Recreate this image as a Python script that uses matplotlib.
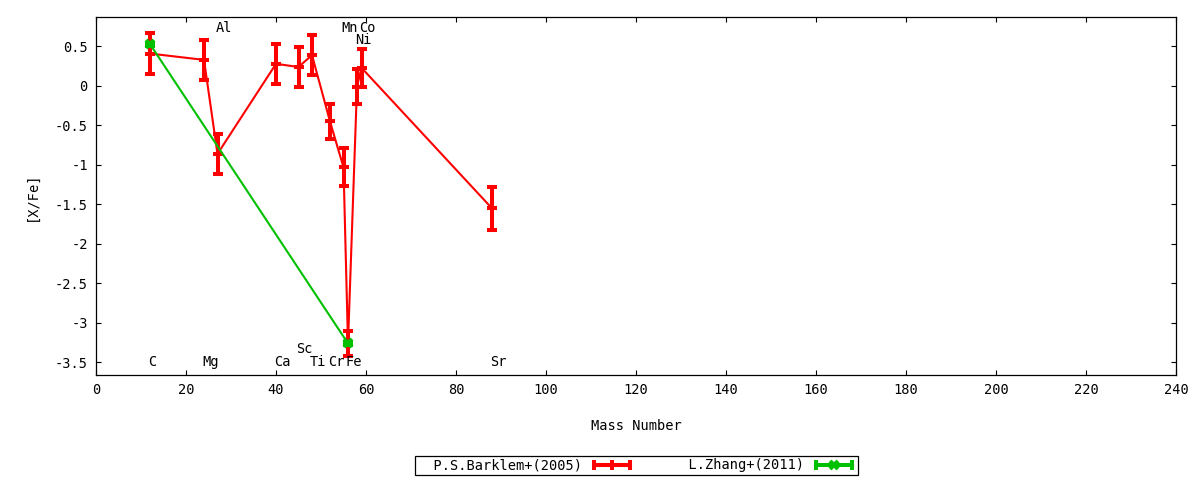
import matplotlib
matplotlib.use('Agg')
import matplotlib.pyplot as plt
from matplotlib.lines import Line2D
from matplotlib.legend_handler import HandlerLine2D, HandlerTuple
from matplotlib.ticker import FuncFormatter

# ---- data ----
elements = ['C', 'Mg', 'Al', 'Ca', 'Sc', 'Ti', 'Cr', 'Mn', 'Fe', 'Ni', 'Co', 'Sr']
mass = [12, 24, 27, 40, 45, 48, 52, 55, 56, 58, 59, 88]
barklem = [0.41, 0.33, -0.86, 0.28, 0.24, 0.39, -0.45, -1.03, -3.26, -0.01, 0.23, -1.55]
barklem_err = [0.26, 0.25, 0.25, 0.25, 0.25, 0.25, 0.22, 0.24, 0.16, 0.22, 0.24, 0.27]
label_y = [-3.5, -3.5, 0.73, -3.5, -3.33, -3.5, -3.5, 0.73, -3.5, 0.58, 0.73, -3.5]

zhang_mass = [12, 56]
zhang = [0.53, -3.26]
zhang_err = [0.02, 0.02]

series_names = ['P.S.Barklem+(2005)', 'L.Zhang+(2011)']
xticks = list(range(0, 241, 20))
yticks = [0.5, 0, -0.5, -1, -1.5, -2, -2.5, -3, -3.5]

RED = '#ff0000'
GREEN = '#00c000'

plt.rcParams['font.family'] = ['DejaVu Sans Mono', 'DejaVu Sans']
plt.rcParams['font.size'] = 9.8
plt.rcParams['axes.unicode_minus'] = False

fig = plt.figure(figsize=(12, 4.8), dpi=100)
ax = fig.add_axes([96 / 1200, 1 - 375 / 480, 1080 / 1200, 358 / 480])

# Barklem series
ax.plot(mass, barklem, color=RED, lw=1.5, zorder=2)
ax.errorbar(mass, barklem, yerr=barklem_err, fmt='none', ecolor=RED,
            elinewidth=2.9, capsize=3.3, capthick=2.9, zorder=3)
ax.plot(mass, barklem, ls='none', marker='+', ms=7, mew=2.9, color=RED, zorder=3)

# Zhang series
ax.plot(zhang_mass, zhang, color=GREEN, lw=1.5, zorder=4)
ax.errorbar(zhang_mass, zhang, yerr=zhang_err, fmt='none', ecolor=GREEN,
            elinewidth=2.9, capsize=3.3, capthick=2.9, zorder=5)
ax.plot(zhang_mass, zhang, ls='none', marker='x', ms=6, mew=2.9, color=GREEN, zorder=5)

# element labels
for el, m, ly in zip(elements, mass, label_y):
    ax.text(m - 0.45, ly, el, ha='left', va='center', color='black', zorder=6)

ax.set_xlim(0, 240)
ax.set_ylim(-3.66, 0.873)
ax.set_xticks(xticks)
ax.set_yticks(yticks)
ax.xaxis.set_major_formatter(FuncFormatter(lambda v, p: '%g' % v))
ax.yaxis.set_major_formatter(FuncFormatter(lambda v, p: '%g' % v))
ax.tick_params(direction='in', top=True, right=True, length=3.5, width=0.8, pad=6)
ax.tick_params(axis='y', pad=6)
for s in ax.spines.values():
    s.set_linewidth(0.9)

ax.set_xlabel('Mass Number')
ax.set_ylabel('[X/Fe]')
ax.xaxis.set_label_coords(0.5, -0.122)
ax.yaxis.set_label_coords(-0.053, 0.5)

# legend in gnuplot style
h1_caps = Line2D([], [], color=RED, lw=2.9, marker='|', ms=7, mew=2.9)
h1_pt = Line2D([], [], ls='none', color=RED, marker='|', ms=7, mew=2.9)
h2_caps = Line2D([], [], color=GREEN, lw=2.9, marker='|', ms=7, mew=2.9)
h2_pt = Line2D([], [], ls='none', color=GREEN, marker='x', ms=6, mew=2.9)
hmap = {h1_caps: HandlerLine2D(numpoints=2), h2_caps: HandlerLine2D(numpoints=2),
        h1_pt: HandlerLine2D(numpoints=1), h2_pt: HandlerLine2D(numpoints=1),
        tuple: HandlerTuple(ndivide=1, pad=0)}
w = max(len(n) for n in series_names) + 2
labels = [n.rjust(w) for n in series_names]
leg = fig.legend([(h1_caps, h1_pt), (h2_caps, h2_pt)], labels,
                 loc='center', bbox_to_anchor=(636.5 / 1200, 1 - 465.5 / 480),
                 ncol=2, markerfirst=False, frameon=True, fancybox=False,
                 handlelength=3.2, handletextpad=0.6, columnspacing=0.4,
                 borderpad=0.15, handler_map=hmap)
fr = leg.get_frame()
fr.set_edgecolor('black')
fr.set_linewidth(0.9)
fr.set_alpha(1)

fig.savefig('out.png', dpi=100)
